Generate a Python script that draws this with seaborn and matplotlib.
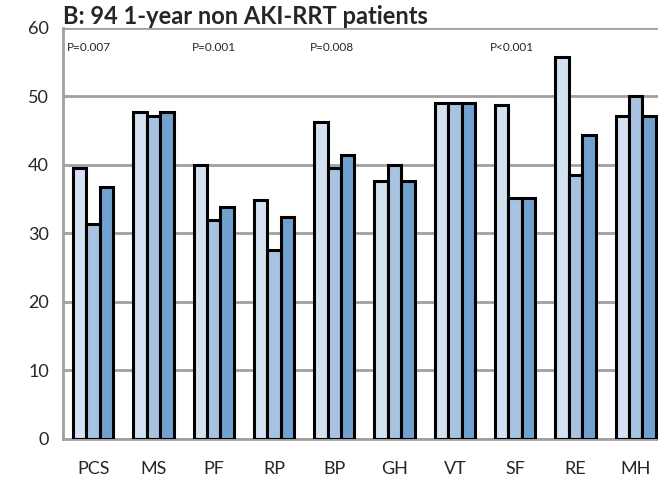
import pandas as pd
import seaborn as sns
import matplotlib.pyplot as plt
from matplotlib.ticker import MultipleLocator

categories = ['PCS', 'MS', 'PF', 'RP', 'BP', 'GH', 'VT', 'SF', 'RE', 'MH']
groups = ['Group 1', 'Group 2', 'Group 3']
group1 = [39.5, 47.7, 40.0, 34.8, 46.2, 37.6, 49.1, 48.7, 55.8, 47.2]
group2 = [31.4, 47.2, 31.9, 27.5, 39.5, 40.0, 49.1, 35.2, 38.5, 50.0]
group3 = [36.7, 47.7, 33.8, 32.4, 41.4, 37.6, 49.1, 35.2, 44.3, 47.2]
p_labels = ['P=0.007', 'P=0.001', 'P=0.008', 'P<0.001']
p_pos = [-0.43, 1.64, 3.6, 6.58]

rows = []
for g, vals in zip(groups, [group1, group2, group3]):
    for c, v in zip(categories, vals):
        rows.append({'cat': c, 'group': g, 'value': v})
df = pd.DataFrame(rows)

sns.set_style('white')
plt.rcParams['font.family'] = ['Lato', 'DejaVu Sans']

fig = plt.figure(figsize=(6.58, 4.80), dpi=100)
ax = fig.add_axes([63/658, 41.5/480, 1 - 63/658, 410.5/480])

colors = ['#D0E1F4', '#9FC3EA', '#62A1DD']
sns.barplot(data=df, x='cat', y='value', hue='group', palette=colors,
            width=0.67, gap=0, edgecolor='black', linewidth=2.2,
            legend=False, ax=ax, zorder=3)

ax.set_ylim(0, 60)
ax.set_xlim(-0.5, 9.37)
ax.yaxis.set_major_locator(MultipleLocator(10))
ax.grid(axis='y', color='#A0A0A0', linewidth=2, zorder=0)
ax.set_axisbelow(True)
ax.set_xlabel('')
ax.set_ylabel('')

for s in ['top', 'right']:
    ax.spines[s].set_visible(False)
for s in ['left', 'bottom']:
    ax.spines[s].set_color('#A0A0A0')
    ax.spines[s].set_linewidth(2)

ax.set_xticks(range(len(categories)))
ax.set_xticklabels(categories)
ax.set_xticks([i - 0.5 for i in range(len(categories))], minor=True)
ax.tick_params(axis='x', which='major', length=0, pad=16, labelsize=13)
ax.tick_params(axis='x', which='minor', length=5, width=2, color='#A0A0A0', direction='out')
ax.tick_params(axis='y', length=5, width=2, color='#A0A0A0', direction='out', labelsize=13, pad=5)

for lab, xp in zip(p_labels, p_pos):
    ax.text(xp, 57.2, lab, fontsize=8.5, ha='left', va='center')

fig.text(63/658, 1 - 17/480, 'B: 94 1-year non AKI-RRT patients', fontsize=17,
         fontweight='bold', ha='left', va='center')

fig.savefig('out.png', dpi=100)
